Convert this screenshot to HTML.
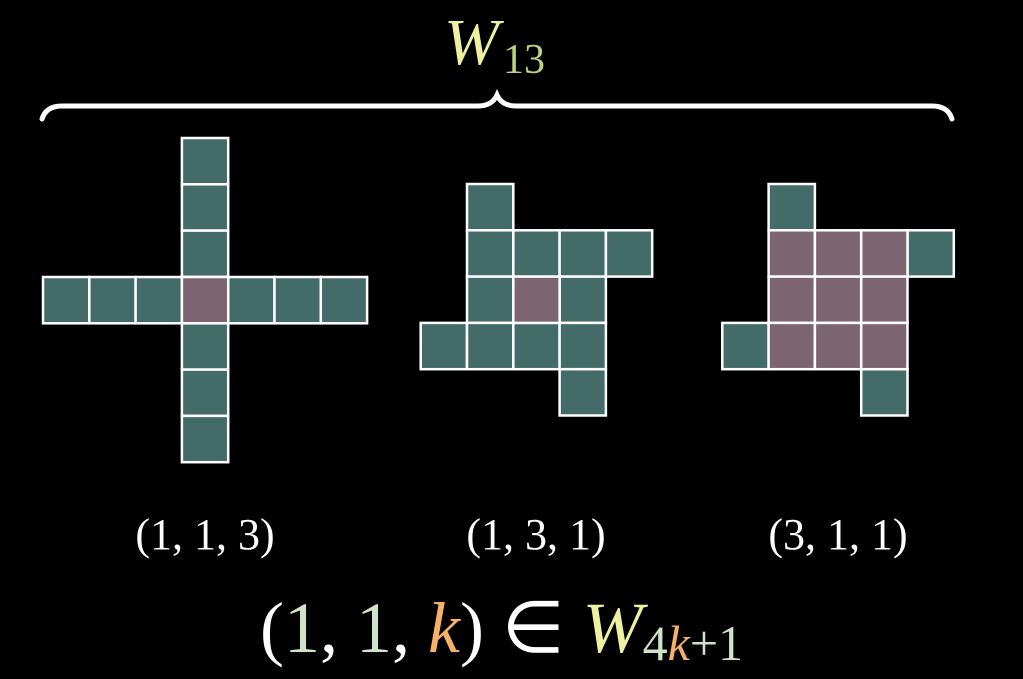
<!DOCTYPE html>
<html><head><style>
html,body{margin:0;padding:0;background:#000;width:1023px;height:679px;overflow:hidden}
svg{display:block}
text{font-family:"Liberation Serif",serif}
</style></head><body>
<svg width="1023" height="679" viewBox="0 0 1023 679">
<rect width="1023" height="679" fill="#000"/>
<text x="444" y="64" font-size="66" font-style="italic" fill="#eef0a2">W</text>
<text x="503" y="73" font-size="42" fill="#b9d37e">13</text>
<path d="M42,119 Q46,106 62,106 L478,106 Q492,106 497,95 Q502,106 516,106 L932,106 Q948,106 952,119" fill="none" stroke="#fff" stroke-width="5" stroke-linecap="round"/>
<g stroke="#fff" stroke-width="2.5">
<g fill="#436b68">
<rect x="43" y="277" width="46.3" height="46.3"/>
<rect x="89.3" y="277" width="46.3" height="46.3"/>
<rect x="135.6" y="277" width="46.3" height="46.3"/>
<rect x="228.2" y="277" width="46.3" height="46.3"/>
<rect x="274.5" y="277" width="46.3" height="46.3"/>
<rect x="320.8" y="277" width="46.3" height="46.3"/>
<rect x="181.9" y="138" width="46.3" height="46.3"/>
<rect x="181.9" y="184.3" width="46.3" height="46.3"/>
<rect x="181.9" y="230.6" width="46.3" height="46.3"/>
<rect x="181.9" y="323.3" width="46.3" height="46.3"/>
<rect x="181.9" y="369.6" width="46.3" height="46.3"/>
<rect x="181.9" y="415.9" width="46.3" height="46.3"/>
</g>
<rect x="181.9" y="277" width="46.3" height="46.3" fill="#7c6470"/>
<g fill="#436b68">
<rect x="467" y="184" width="46.3" height="46.3"/>
<rect x="467" y="230.3" width="46.3" height="46.3"/>
<rect x="513.3" y="230.3" width="46.3" height="46.3"/>
<rect x="559.6" y="230.3" width="46.3" height="46.3"/>
<rect x="605.9" y="230.3" width="46.3" height="46.3"/>
<rect x="467" y="276.6" width="46.3" height="46.3"/>
<rect x="559.6" y="276.6" width="46.3" height="46.3"/>
<rect x="420.7" y="322.9" width="46.3" height="46.3"/>
<rect x="467" y="322.9" width="46.3" height="46.3"/>
<rect x="513.3" y="322.9" width="46.3" height="46.3"/>
<rect x="559.6" y="322.9" width="46.3" height="46.3"/>
<rect x="559.6" y="369.2" width="46.3" height="46.3"/>
</g>
<rect x="513.3" y="276.6" width="46.3" height="46.3" fill="#7c6470"/>
<g fill="#436b68">
<rect x="768.6" y="184" width="46.3" height="46.3"/>
<rect x="907.5" y="230.3" width="46.3" height="46.3"/>
<rect x="722.3" y="322.9" width="46.3" height="46.3"/>
<rect x="861.2" y="369.2" width="46.3" height="46.3"/>
</g>
<g fill="#7c6470">
<rect x="768.6" y="230.3" width="46.3" height="46.3"/>
<rect x="814.9" y="230.3" width="46.3" height="46.3"/>
<rect x="861.2" y="230.3" width="46.3" height="46.3"/>
<rect x="768.6" y="276.6" width="46.3" height="46.3"/>
<rect x="814.9" y="276.6" width="46.3" height="46.3"/>
<rect x="861.2" y="276.6" width="46.3" height="46.3"/>
<rect x="768.6" y="322.9" width="46.3" height="46.3"/>
<rect x="814.9" y="322.9" width="46.3" height="46.3"/>
<rect x="861.2" y="322.9" width="46.3" height="46.3"/>
</g>
</g>
<g font-size="44" fill="#fff" text-anchor="middle">
<text x="205" y="549">(1, 1, 3)</text>
<text x="536" y="549">(1, 3, 1)</text>
<text x="838" y="549">(3, 1, 1)</text>
</g>
<text x="260" y="652" font-size="72" fill="#fff">(<tspan fill="#cfe3c8">1</tspan>, <tspan fill="#cfe3c8">1</tspan>, <tspan fill="#f5b06a" font-style="italic">k</tspan>) ∈ <tspan fill="#eef0a2" font-style="italic">W</tspan><tspan font-size="50" dy="8" fill="#cfe3c8">4</tspan><tspan font-size="50" fill="#f5b06a" font-style="italic">k</tspan><tspan font-size="50" fill="#cfe3c8">+1</tspan></text>
</svg>
</body></html>
